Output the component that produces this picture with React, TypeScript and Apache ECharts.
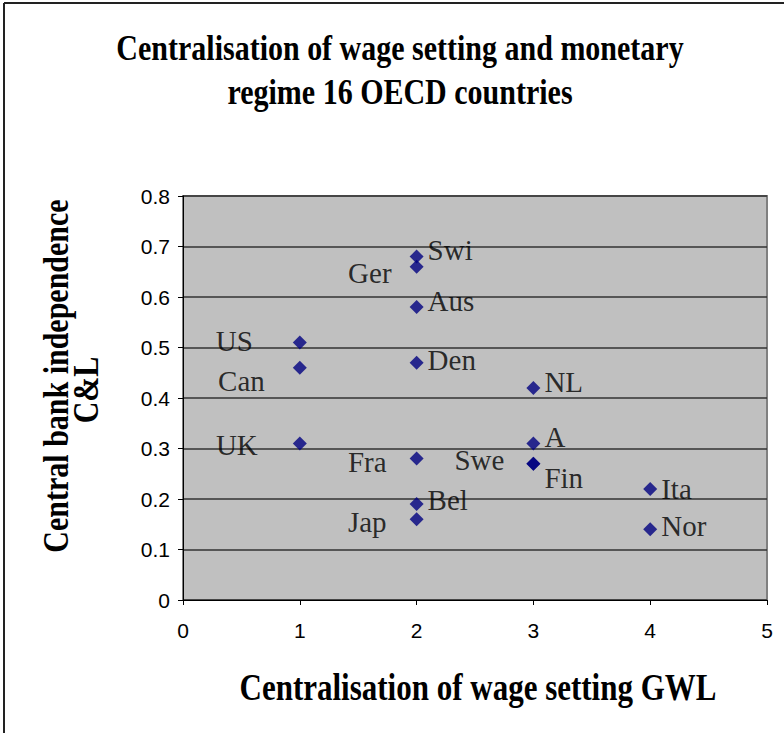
import React, { useEffect, useRef } from "react";
import * as echarts from "echarts";

const countries = ["US", "Can", "UK", "Swi", "Ger", "Aus", "Den", "Fra", "Bel", "Jap", "NL", "A", "Swe", "Fin", "Ita", "Nor"];
const wageCentralisation = [1, 1, 1, 2, 2, 2, 2, 2, 2, 2, 3, 3, 3, 3, 4, 4];
const cbIndependence = [0.51, 0.46, 0.31, 0.68, 0.66, 0.58, 0.47, 0.28, 0.19, 0.16, 0.42, 0.31, 0.27, 0.27, 0.22, 0.14];
const xTicks = [0, 1, 2, 3, 4, 5];
const yTicks = [0, 0.1, 0.2, 0.3, 0.4, 0.5, 0.6, 0.7, 0.8];

const titleLines = ["Centralisation of wage setting and monetary", "regime 16 OECD countries"];
const xTitle = "Centralisation of wage setting GWL";
const yTitleLines = ["Central bank independence", "C&L"];

// label placement (style only)
const labelPlacement: Record<string, { position: string; offset: number[]; distance: number }> = {
  US: { position: "left", offset: [0, -1], distance: 40 },
  Can: { position: "left", offset: [0, 13], distance: 28 },
  UK: { position: "left", offset: [0, 2], distance: 35 },
  Swi: { position: "right", offset: [0, -7], distance: 4 },
  Ger: { position: "left", offset: [0, 6], distance: 18 },
  Aus: { position: "right", offset: [0, -6], distance: 4 },
  Den: { position: "right", offset: [0, -3], distance: 4 },
  Fra: { position: "left", offset: [0, 3], distance: 23 },
  Bel: { position: "right", offset: [0, -4], distance: 4 },
  Jap: { position: "left", offset: [0, 3], distance: 23 },
  NL: { position: "right", offset: [0, -6], distance: 4 },
  A: { position: "right", offset: [0, -6], distance: 4 },
  Swe: { position: "left", offset: [0, -4], distance: 22 },
  Fin: { position: "right", offset: [0, 14], distance: 4 },
  Ita: { position: "right", offset: [0, 0], distance: 4 },
  Nor: { position: "right", offset: [0, -3], distance: 4 },
};

export default function App() {
  const ref = useRef<HTMLDivElement>(null);
  useEffect(() => {
    if (!ref.current) return;
    const chart = echarts.init(ref.current, undefined, { renderer: "svg" });
    const serif = "'Liberation Serif', 'Times New Roman', serif";
    const sans = "'Liberation Sans', Arial, sans-serif";
    const data = countries.map((c, i) => {
      const p = labelPlacement[c];
      return {
        name: c,
        value: [wageCentralisation[i], cbIndependence[i]],
        label: { position: p.position, offset: p.offset, distance: p.distance },
      };
    });
    const boldText = (text: string, x: number, y: number, size: number, rotation = 0) => ({
      type: "text",
      x,
      y,
      rotation,
      scaleY: 1.2,
      style: { text, font: `bold ${size}px ${serif}`, fill: "#000", textAlign: "center", textVerticalAlign: "middle" },
    });
    chart.setOption({
      animation: false,
      backgroundColor: "#ffffff",
      grid: {
        left: 183,
        top: 196,
        right: 17,
        bottom: 133,
        show: true,
        backgroundColor: "#c0c0c0",
        borderColor: "#808080",
        borderWidth: 2,
      },
      xAxis: {
        type: "value",
        min: xTicks[0],
        max: xTicks[xTicks.length - 1],
        interval: 1,
        axisLine: { show: true, lineStyle: { color: "#000", width: 1 } },
        axisTick: { show: true, inside: false, length: 5, lineStyle: { color: "#000" } },
        axisLabel: { color: "#000", fontFamily: sans, fontSize: 21, margin: 20 },
        splitLine: { show: false },
      },
      yAxis: {
        type: "value",
        min: yTicks[0],
        max: yTicks[yTicks.length - 1],
        interval: 0.1,
        axisLine: { show: true, lineStyle: { color: "#000", width: 1 } },
        axisTick: { show: true, inside: false, length: 5, lineStyle: { color: "#000" } },
        axisLabel: { color: "#000", fontFamily: sans, fontSize: 21, margin: 13 },
        splitLine: { show: true, lineStyle: { color: "#333", width: 1.5 } },
      },
      series: [
        {
          type: "scatter",
          symbol: "diamond",
          symbolSize: 14,
          itemStyle: { color: "#000080" },
          data,
          label: {
            show: true,
            formatter: (p: any) => p.name,
            color: "#000",
            fontFamily: serif,
            fontSize: 29,
          },
        },
      ],
      graphic: [
        { type: "line", shape: { x1: 4, y1: 3, x2: 4, y2: 733 }, style: { stroke: "#222", lineWidth: 2 } },
        { type: "line", shape: { x1: 4, y1: 3, x2: 784, y2: 3 }, style: { stroke: "#222", lineWidth: 2 } },
        boldText(titleLines[0], 400, 48, 30),
        boldText(titleLines[1], 400, 92, 30),
        boldText(xTitle, 478, 687, 31),
        boldText(yTitleLines[0], 56, 376, 30, Math.PI / 2),
        boldText(yTitleLines[1], 86, 390, 30, Math.PI / 2),
      ],
    });
    return () => chart.dispose();
  }, []);
  return <div ref={ref} style={{ position: "fixed", left: 0, top: 0, width: 784, height: 733 }} />;
}
